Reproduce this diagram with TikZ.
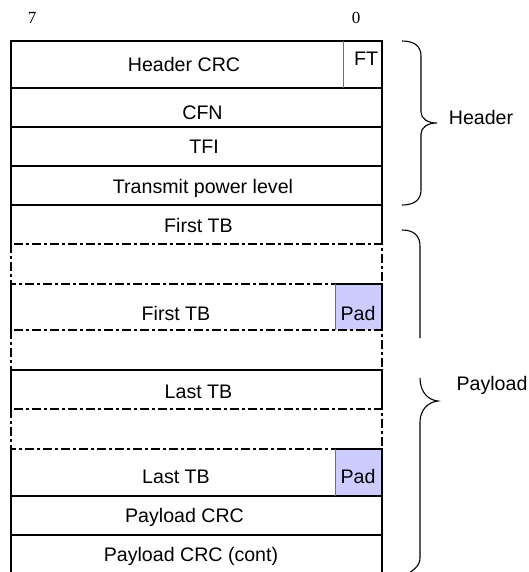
\documentclass[tikz,border=0pt]{standalone}
\usepackage{fontspec}
\setmainfont{Liberation Sans}
\newfontfamily\numfont{Liberation Serif}
\definecolor{padblue}{HTML}{CCCCFF}
\definecolor{divgray}{HTML}{707070}
\tikzset{
  sline/.style={line width=1.1pt, line cap=rect},
  ddline/.style={line width=1.2pt, dash pattern=on 9pt off 3pt on 3pt off 3pt},
  gline/.style={line width=1pt, draw=divgray},
  lbl/.style={font=\fontsize{19.6}{19.6}\selectfont, inner sep=0pt, text height=14pt, text depth=0pt, anchor=center},
  numlbl/.style={font=\numfont\fontsize{17}{17}\selectfont, inner sep=0pt, text height=11.3pt, text depth=0pt, anchor=center},
  brace/.style={line width=1.1pt}
}
\begin{document}
\begin{tikzpicture}[x=1pt,y=-1pt]
\useasboundingbox (0,0) rectangle (529,572);
% pad fills
\fill[padblue] (335,284) rectangle (382,330);
\fill[padblue] (335,449) rectangle (382,496);
% dash-dot rows
\draw[ddline] (11,244) rectangle (382,284);
\draw[ddline] (11,330) rectangle (382,370);
\draw[ddline] (11,409) rectangle (382,449);
% solid horizontals
\foreach \y in {41,88,127,166,205,370,496,535}
  \draw[sline] (11,\y) -- (382,\y);
\draw[sline] (335,284) -- (382,284);
\draw[sline] (335,449) -- (382,449);
% solid verticals
\draw[sline] (11,41) -- (11,244);
\draw[sline] (382,41) -- (382,244);
\draw[sline] (11,284) -- (11,330);
\draw[sline] (382,284) -- (382,330);
\draw[sline] (11,370) -- (11,409);
\draw[sline] (382,370) -- (382,409);
\draw[sline] (11,449) -- (11,580);
\draw[sline] (382,449) -- (382,580);
% gray dividers
\draw[gline] (343,41) -- (343,88);
\draw[gline] (335,284) -- (335,330);
\draw[gline] (335,449) -- (335,496);
% bit numbers
\node[numlbl] (b7) at (32,18) {7};
\node[numlbl] (b0) at (356,18) {0};
% field texts
\node[lbl] (hcrc) at (184,65) {Header CRC};
\node[lbl] (ft) at (366,59) {FT};
\node[lbl] (cfn) at (202.5,113) {CFN};
\node[lbl] (tfi) at (204,146.5) {TFI};
\node[lbl] (tpl) at (203,186) {Transmit power level};
\node[lbl] (ftb1) at (198.5,225.5) {First TB};
\node[lbl] (ftb2) at (176,313.5) {First TB};
\node[lbl] (pad1) at (358,313.5) {Pad};
\node[lbl] (ltb1) at (198.5,391.5) {Last TB};
\node[lbl] (ltb2) at (176,476.5) {Last TB};
\node[lbl] (pad2) at (358,476.5) {Pad};
\node[lbl] (pcrc) at (184.5,515) {Payload CRC};
\node[lbl] (pcrcc) at (191,554.5) {Payload CRC (cont)};
% braces
\draw[brace] (402,41) .. controls (414,41) and (421,46) .. (421,56) -- (421,112)
  .. controls (421,119) and (428,123) .. (437,123)
  .. controls (428,123) and (421,127) .. (421,134) -- (421,190)
  .. controls (421,200) and (414,205) .. (402,205);
\node[lbl] (hdr) at (481,118) {Header};
\draw[brace] (402,230) .. controls (414,230) and (420,236) .. (420,246) -- (420,338);
\draw[brace] (420,378) .. controls (420,392) and (428,400) .. (438,401)
  .. controls (428,402) and (420,410) .. (420,422) -- (420,558)
  .. controls (420,566) and (413,571) .. (405,575);
\node[lbl] (pl) at (492,383.5) {Payload};
\end{tikzpicture}
\end{document}
